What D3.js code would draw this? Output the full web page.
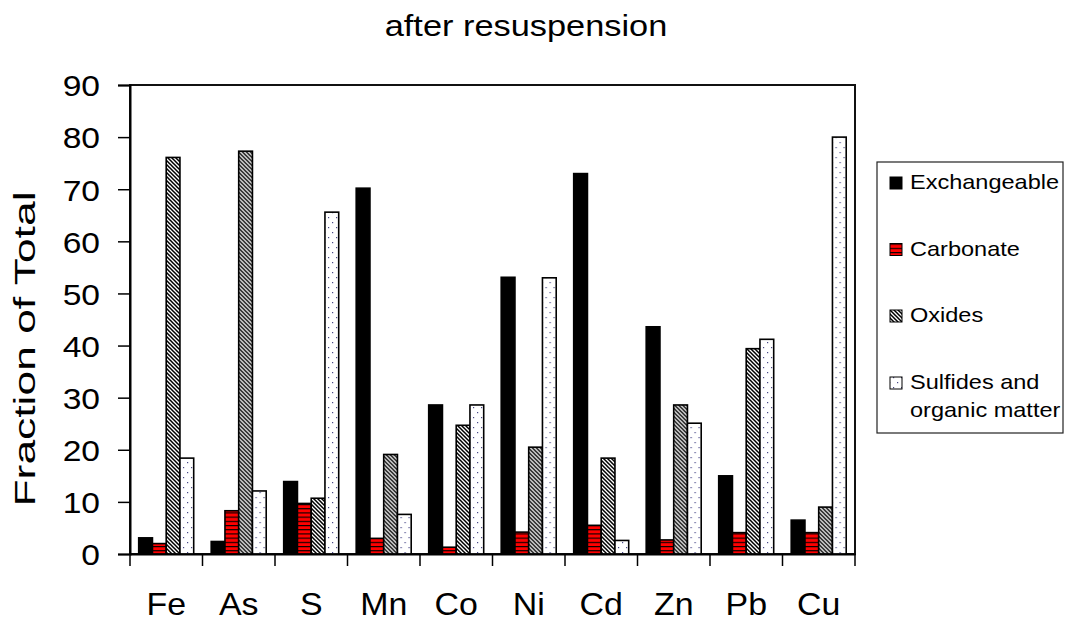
<!DOCTYPE html>
<html>
<head>
<meta charset="utf-8">
<script src="https://cdn.jsdelivr.net/npm/d3@7/dist/d3.min.js"></script>
<style>
  html, body { margin: 0; padding: 0; background: #fff; }
  svg { display: block; }
  svg text { font-family: "Liberation Sans", Arial, sans-serif; }
</style>
</head>
<body>
<svg id="chart" width="1065" height="621"></svg>
<script>
// Metal fractionation after resuspension (% of total)
const elements = ["Fe", "As", "S", "Mn", "Co", "Ni", "Cd", "Zn", "Pb", "Cu"];
const exchangeable = [3.1, 2.4, 13.9, 70.2, 28.6, 53.1, 73.0, 43.6, 15.0, 6.5];
const carbonate = [2.0, 8.3, 9.7, 3.0, 1.3, 4.2, 5.5, 2.7, 4.1, 4.1];
const oxides = [76.1, 77.3, 10.7, 19.1, 24.7, 20.5, 18.4, 28.6, 39.4, 9.0];
const sulfides = [18.4, 12.1, 65.6, 7.6, 28.6, 53.0, 2.6, 25.1, 41.2, 80.0];
const seriesNames = ["Exchangeable", "Carbonate", "Oxides", "Sulfides and organic matter"];
const yTicks = [0, 10, 20, 30, 40, 50, 60, 70, 80, 90];

const series = [
  { key: "exch", name: seriesNames[0], values: exchangeable, fill: "#000" },
  { key: "carb", name: seriesNames[1], values: carbonate, fill: "url(#pat-carb)" },
  { key: "oxid", name: seriesNames[2], values: oxides, fill: "url(#pat-oxid)" },
  { key: "sulf", name: seriesNames[3], values: sulfides, fill: "url(#pat-sulf)" }
];

const svg = d3.select("#chart");
const plot = { left: 130, right: 855, top: 85, bottom: 554 };

// stretch text horizontally by a factor
function stretch(sel, factor) {
  sel.each(function () {
    const len = this.getComputedTextLength();
    d3.select(this).attr("textLength", len * factor).attr("lengthAdjust", "spacingAndGlyphs");
  });
}

// fill patterns
const defs = svg.append("defs");
const pc = defs.append("pattern").attr("id", "pat-carb").attr("patternUnits", "userSpaceOnUse")
  .attr("width", 8).attr("height", 4.2);
pc.append("rect").attr("width", 8).attr("height", 4.2).attr("fill", "#ff0000");
pc.append("rect").attr("y", 0).attr("width", 8).attr("height", 1.1).attr("fill", "#000");

// diagonal "\" hatching
const po = defs.append("pattern").attr("id", "pat-oxid").attr("patternUnits", "userSpaceOnUse")
  .attr("width", 4).attr("height", 4);
po.append("rect").attr("width", 4).attr("height", 4).attr("fill", "#fff");
po.append("path")
  .attr("d", "M-1,-1 L5,5 M-1,3 L1,5 M3,-1 L5,1")
  .attr("stroke", "#000").attr("stroke-width", 1.5).attr("fill", "none");

const ps = defs.append("pattern").attr("id", "pat-sulf").attr("patternUnits", "userSpaceOnUse")
  .attr("width", 8).attr("height", 10);
ps.append("rect").attr("width", 8).attr("height", 10).attr("fill", "#fff");
ps.append("rect").attr("x", 1).attr("y", 2).attr("width", 1.2).attr("height", 1.2).attr("fill", "#4a4a88");
ps.append("rect").attr("x", 5).attr("y", 7).attr("width", 1.2).attr("height", 1.2).attr("fill", "#4a4a88");

// scales
const x0 = d3.scaleBand().domain(elements).range([plot.left, plot.right]).padding(0);
const x1 = d3.scaleBand().domain(series.map(s => s.key)).range([8.7, 63.7]).padding(0);
const y = d3.scaleLinear().domain([0, 90]).range([plot.bottom, plot.top]);

// plot frame
svg.append("rect")
  .attr("x", plot.left).attr("y", plot.top)
  .attr("width", plot.right - plot.left).attr("height", plot.bottom - plot.top)
  .attr("fill", "none").attr("stroke", "#111").attr("stroke-width", 2);

// bars
const groups = svg.append("g").selectAll("g").data(elements).join("g")
  .attr("transform", d => `translate(${x0(d)},0)`);
groups.selectAll("rect")
  .data((d, i) => series.map(s => ({ s, v: s.values[i] })))
  .join("rect")
  .attr("x", d => x1(d.s.key))
  .attr("width", x1.bandwidth())
  .attr("y", d => y(d.v))
  .attr("height", d => y(0) - y(d.v))
  .attr("fill", d => d.s.fill)
  .attr("stroke", "#000")
  .attr("stroke-width", 1.6);

// y axis
const yAxis = svg.append("g")
  .attr("transform", `translate(${plot.left},0)`)
  .call(d3.axisLeft(y).tickValues(yTicks).tickSize(12).tickPadding(18).tickFormat(d3.format("d")));
yAxis.attr("font-family", null);
yAxis.select(".domain").attr("stroke", "#000").attr("stroke-width", 2);
yAxis.selectAll(".tick line").attr("stroke", "#000").attr("stroke-width", 1.5);
yAxis.selectAll(".tick text")
  .attr("font-size", 30).attr("fill", "#000").attr("dy", "0.36em")
  .call(stretch, 1.12);

// x axis: labels at category centres, ticks at boundaries
const xAxis = svg.append("g")
  .attr("transform", `translate(0,${plot.bottom})`)
  .call(d3.axisBottom(x0).tickSize(0).tickPadding(38));
xAxis.attr("font-family", null);
xAxis.select(".domain").attr("stroke", "#000").attr("stroke-width", 2);
xAxis.selectAll(".tick text")
  .attr("font-size", 32).attr("fill", "#000")
  .call(stretch, 1.06);
const bounds = elements.map(d => x0(d)).concat([x0.range()[1]]);
xAxis.selectAll("line.bound").data(bounds).join("line")
  .attr("class", "bound")
  .attr("x1", d => d).attr("x2", d => d)
  .attr("y1", 0).attr("y2", 12)
  .attr("stroke", "#000").attr("stroke-width", 1.5);

// title
svg.append("text")
  .attr("x", 526).attr("y", 36)
  .attr("text-anchor", "middle").attr("font-size", 30).attr("fill", "#000")
  .text("after resuspension")
  .call(stretch, 1.145);

// y axis title
svg.append("text")
  .attr("transform", "translate(35,349) rotate(-90)")
  .attr("text-anchor", "middle").attr("font-size", 30).attr("fill", "#000")
  .text("Fraction of Total")
  .attr("textLength", 315).attr("lengthAdjust", "spacingAndGlyphs");

// legend
const legend = svg.append("g");
legend.append("rect")
  .attr("x", 877).attr("y", 162).attr("width", 186).attr("height", 271)
  .attr("fill", "#fff").attr("stroke", "#222").attr("stroke-width", 1.2);
const legendRows = [
  { s: series[0], lines: ["Exchangeable"], base: 189 },
  { s: series[1], lines: ["Carbonate"], base: 255.5 },
  { s: series[2], lines: ["Oxides"], base: 322 },
  { s: series[3], lines: ["Sulfides and", "organic matter"], base: 389 }
];
legendRows.forEach(r => {
  legend.append("rect")
    .attr("x", 890).attr("y", r.base - 12).attr("width", 12).attr("height", 12)
    .attr("fill", r.s.fill).attr("stroke", "#000").attr("stroke-width", 1);
  r.lines.forEach((ln, i) => {
    legend.append("text")
      .attr("x", 910).attr("y", r.base + i * 27.5)
      .attr("font-size", 21).attr("fill", "#000")
      .text(ln)
      .call(stretch, 1.12);
  });
});
</script>
</body>
</html>
